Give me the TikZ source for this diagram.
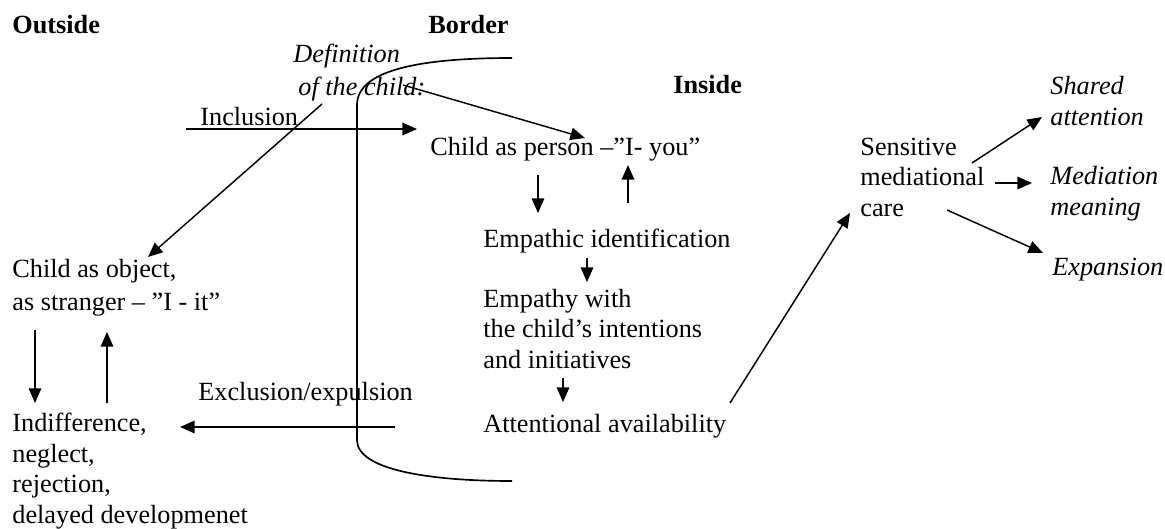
\documentclass[tikz,border=0pt]{standalone}
\usepackage{fontspec}
\setmainfont{Liberation Serif}
\usetikzlibrary{arrows.meta,positioning}

\begin{document}
\begin{tikzpicture}[x=0.48pt,y=-0.48pt,
  txt/.style={anchor=base west,inner sep=0pt,align=left,font=\fontsize{12.6}{14.6}\selectfont},
  head/.style={txt,font=\fontsize{12.6}{14.6}\selectfont\bfseries},
  emph/.style={txt,font=\fontsize{12.6}{14.6}\selectfont\itshape},
  arr/.style={-{Triangle[length=7pt,width=6pt]},line width=0.7pt},
  borderline/.style={line width=0.8pt}]
  \useasboundingbox (0,0) rectangle (1165,529);
  % Headings
  \node[head] (outside) at (12,33) {Outside};
  \node[head] (bordertitle) at (428,33) {Border};
  \node[head] (inside) at (673,93) {Inside};
  % Border line
  \draw[borderline] (512,58) .. controls (420,58) and (357,70) .. (357,105)
    -- (357,440) .. controls (357,470) and (430,481) .. (512,481);
  % Texts (multi-line nodes sit on the baseline of their last line)
  \node[emph,font=\fontsize{12.6}{15.4}\selectfont\itshape] (definition) at (293,95) {Definition\\\hspace*{2.4pt}of the child:};
  \node[txt] (inclusion) at (200,125) {Inclusion};
  \node[txt] (person) at (430,155) {Child as person –”I- you”};
  \node[txt] (empathic) at (483,247) {Empathic identification};
  \node[txt] (empathy) at (483,368) {Empathy with\\the child’s intentions\\and initiatives};
  \node[txt] (avail) at (483,432) {Attentional availability};
  \node[txt] (sensitive) at (860,216) {Sensitive\\mediational\\care};
  \node[emph] (shared) at (1050,125) {Shared\\attention};
  \node[emph] (mediation) at (1050,215) {Mediation\\meaning};
  \node[emph] (expansion) at (1052,275) {Expansion};
  \node[txt,font=\fontsize{12.6}{15.4}\selectfont] (object) at (12,310) {Child as object,\\as stranger – ”I - it”};
  \node[txt] (indiff) at (12,523) {Indifference,\\neglect,\\rejection,\\delayed developmenet};
  \node[txt] (exclusion) at (198,400) {Exclusion/expulsion};
  % Arrow ends
  \coordinate (incl-a) at (186,129);   \coordinate (incl-b) at (417,129);
  \coordinate (def-a) at (403,85);     \coordinate (def-b) at (585,138);
  \coordinate (diag-a) at (322,104);   \coordinate (diag-b) at (148,257);
  \coordinate (pdown-a) at (538,175);  \coordinate (pdown-b) at (538,213);
  \coordinate (pup-a) at (628,203);    \coordinate (pup-b) at (628,165);
  \coordinate (edown-a) at (587,258);  \coordinate (edown-b) at (587,282);
  \coordinate (adown-a) at (563,378);  \coordinate (adown-b) at (563,402);
  \coordinate (care-a) at (730,403);   \coordinate (care-b) at (850,213);
  \coordinate (sh-a) at (972,163);     \coordinate (sh-b) at (1042,117);
  \coordinate (me-a) at (995,183);     \coordinate (me-b) at (1032,183);
  \coordinate (ex-a) at (947,210);     \coordinate (ex-b) at (1043,253);
  \coordinate (odown-a) at (35,330);   \coordinate (odown-b) at (35,403);
  \coordinate (oup-a) at (107,403);    \coordinate (oup-b) at (107,332);
  \coordinate (excl-a) at (395,427);   \coordinate (excl-b) at (180,427);
  % Arrows
  \draw[arr] (incl-a) -- (incl-b);
  \draw[arr] (def-a) -- (def-b);
  \draw[arr] (diag-a) -- (diag-b);
  \draw[arr] (pdown-a) -- (pdown-b);
  \draw[arr] (pup-a) -- (pup-b);
  \draw[arr] (edown-a) -- (edown-b);
  \draw[arr] (adown-a) -- (adown-b);
  \draw[arr] (care-a) -- (care-b);
  \draw[arr] (sh-a) -- (sh-b);
  \draw[arr] (me-a) -- (me-b);
  \draw[arr] (ex-a) -- (ex-b);
  \draw[arr] (odown-a) -- (odown-b);
  \draw[arr] (oup-a) -- (oup-b);
  \draw[arr] (excl-a) -- (excl-b);
\end{tikzpicture}
\end{document}
